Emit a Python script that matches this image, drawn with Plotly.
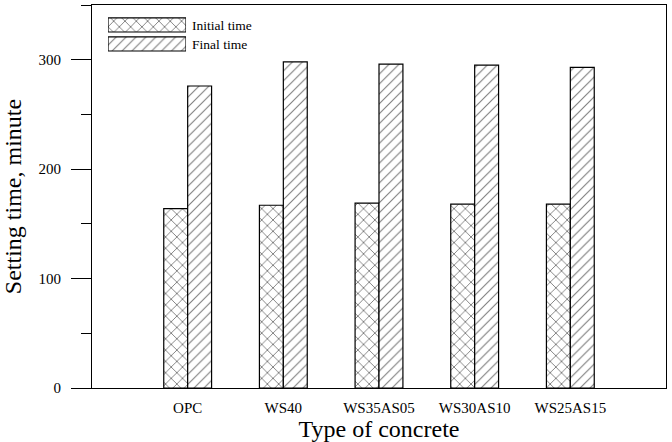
import plotly.graph_objects as go

_FONT = "Liberation Serif"
_BLACK = "#000000"
_WHITE = "#ffffff"

categories = ["OPC", "WS40", "WS35AS05", "WS30AS10", "WS25AS15"]
initial_time = [164, 167, 169, 168, 168]
final_time = [276, 298, 296, 295, 293]
series_names = ["Initial time", "Final time"]
y_ticks = [0, 100, 200, 300]

positions = list(range(1, len(categories) + 1))

_CROSS = {"shape": "x", "fgcolor": _BLACK, "bgcolor": _WHITE, "size": 8, "solidity": 0.22}
_DIAG = {"shape": "/", "fgcolor": _BLACK, "bgcolor": _WHITE, "size": 7, "solidity": 0.16}

fig = go.Figure()
fig.add_trace(go.Bar(
    x=positions, y=initial_time, name=series_names[0], width=0.25, offset=-0.25,
    marker={"color": _WHITE, "line": {"color": _BLACK, "width": 1.2}, "pattern": _CROSS},
    showlegend=False,
))
fig.add_trace(go.Bar(
    x=positions, y=final_time, name=series_names[1], width=0.25, offset=0,
    marker={"color": _WHITE, "line": {"color": _BLACK, "width": 1.2}, "pattern": _DIAG},
    showlegend=False,
))

# legend drawn as a small inset so the long patterned swatches match
fig.add_trace(go.Bar(
    x=[1, 1], y=series_names, orientation="h", width=0.74,
    marker={"color": _WHITE, "line": {"color": _BLACK, "width": 1.2},
            "pattern": {"shape": ["x", "/"], "fgcolor": _BLACK, "bgcolor": _WHITE,
                        "size": [8, 7], "solidity": [0.22, 0.16]}},
    xaxis="x2", yaxis="y2", showlegend=False, hoverinfo="skip",
))

fig.update_layout(
    width=672,
    height=442,
    paper_bgcolor=_WHITE,
    plot_bgcolor=_WHITE,
    margin={"l": 92, "r": 6, "t": 5, "b": 54},
    font={"family": _FONT, "color": _BLACK, "size": 15},
    barmode="overlay",
    xaxis={
        "range": [0, 6],
        "tickvals": positions,
        "ticktext": categories,
        "ticks": "",
        "showgrid": False,
        "zeroline": False,
        "showline": True,
        "linecolor": _BLACK,
        "linewidth": 1.2,
        "mirror": True,
        "automargin": False,
        "ticklabelstandoff": 6,
        "tickfont": {"family": _FONT, "size": 15},
        "title": {"text": "Type of concrete", "font": {"family": _FONT, "size": 24}, "standoff": 0},
    },
    yaxis={
        "range": [0, 350],
        "tickvals": y_ticks,
        "ticks": "outside",
        "ticklen": 20,
        "tickcolor": _BLACK,
        "minor": {"dtick": 50, "ticks": "outside", "ticklen": 10, "tickcolor": _BLACK},
        "showgrid": False,
        "zeroline": False,
        "showline": True,
        "linecolor": _BLACK,
        "linewidth": 1.2,
        "mirror": True,
        "automargin": False,
        "ticklabelstandoff": 7,
        "tickfont": {"family": _FONT, "size": 15},
        "title": {"text": "Setting time, minute", "font": {"family": _FONT, "size": 24}, "standoff": 10},
    },
    xaxis2={
        "domain": [0.0279, 0.1638],
        "anchor": "y2",
        "range": [0, 1],
        "visible": False,
        "fixedrange": True,
    },
    yaxis2={
        "domain": [0.8734, 0.9726],
        "anchor": "x2",
        "side": "right",
        "autorange": "reversed",
        "showgrid": False,
        "zeroline": False,
        "showline": False,
        "ticks": "",
        "automargin": False,
        "ticklabelstandoff": 5,
        "tickfont": {"family": _FONT, "size": 13.5},
        "fixedrange": True,
    },
    showlegend=False,
)

# the page's default body margin would push the figure 8px down and right
fig.write_html(
    "out.html",
    config={"displayModeBar": False},
    post_script="document.body.style.margin = '0';",
)
